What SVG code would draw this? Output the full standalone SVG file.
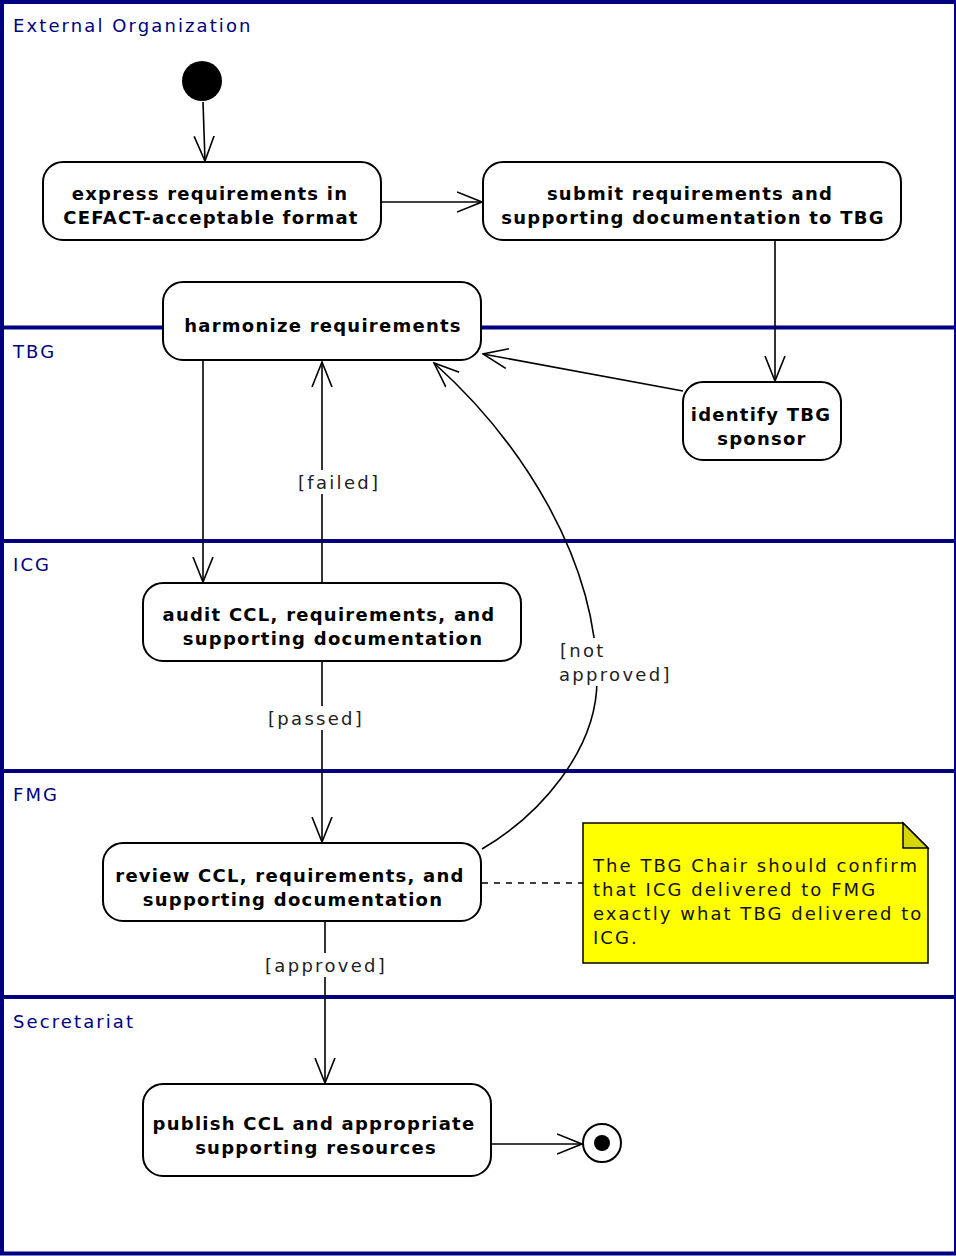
<svg xmlns="http://www.w3.org/2000/svg" width="956" height="1256" viewBox="0 0 956 1256">
<style>
.lane{fill:none;stroke:#000080;stroke-width:4}
.lanelbl{font-family:"DejaVu Sans",sans-serif;font-size:18px;fill:#000080;letter-spacing:2.1px}
.node rect{fill:#fff;stroke:#000;stroke-width:2}
.ntxt{font-family:"DejaVu Sans",sans-serif;font-size:18px;font-weight:bold;fill:#000;text-anchor:middle;letter-spacing:1.25px}
.edge{fill:none;stroke:#000;stroke-width:1.6}
.elbl{font-family:"DejaVu Sans",sans-serif;font-size:18px;fill:#222;letter-spacing:2.3px}
.notetxt{font-family:"DejaVu Sans",sans-serif;font-size:18px;fill:#111;letter-spacing:2.05px}
</style>
<defs>
<marker id="arr" markerUnits="userSpaceOnUse" viewBox="0 0 26 22" refX="25" refY="11" markerWidth="26" markerHeight="22" orient="auto">
<path d="M0,1 L25,11 L0,21" fill="none" stroke="#000" stroke-width="1.6"/>
</marker>
</defs>
<rect x="0" y="0" width="956" height="1256" fill="#fff"/>
<g id="lanes">
<rect class="lane" x="2" y="2" width="954" height="1251.5"/>
<line class="lane" x1="2" y1="327.5" x2="956" y2="327.5"/>
<line class="lane" x1="2" y1="541" x2="956" y2="541"/>
<line class="lane" x1="2" y1="771" x2="956" y2="771"/>
<line class="lane" x1="2" y1="997" x2="956" y2="997"/>
<text class="lanelbl" x="13" y="32">External Organization</text>
<text class="lanelbl" x="13" y="358">TBG</text>
<text class="lanelbl" x="13" y="571">ICG</text>
<text class="lanelbl" x="13" y="801">FMG</text>
<text class="lanelbl" x="13" y="1028">Secretariat</text>
</g>
<g id="connectors">
<line class="edge" x1="203" y1="102" x2="205" y2="161" marker-end="url(#arr)"/>
<line class="edge" x1="382" y1="202" x2="482" y2="202" marker-end="url(#arr)"/>
<line class="edge" x1="775" y1="241" x2="775" y2="381" marker-end="url(#arr)"/>
<line class="edge" x1="683" y1="391" x2="483" y2="354" marker-end="url(#arr)"/>
<line class="edge" x1="203" y1="361" x2="203" y2="582" marker-end="url(#arr)"/>
<line class="edge" x1="322" y1="583" x2="322" y2="362" marker-end="url(#arr)"/>
<line class="edge" x1="322" y1="662" x2="322" y2="842" marker-end="url(#arr)"/>
<path class="edge" d="M482,849 C540,815 597,750 597,680 C597,560 522,442 434,363" marker-end="url(#arr)"/>
<line class="edge" x1="325" y1="922" x2="325" y2="1083" marker-end="url(#arr)"/>
<line class="edge" x1="492" y1="1144" x2="582" y2="1144" marker-end="url(#arr)"/>
<line class="edge" x1="482" y1="883" x2="583" y2="883" stroke-dasharray="6,6"/>
<g id="edge-labels">
<rect x="296" y="470" width="84" height="24" fill="#fff"/>
<text class="elbl" x="298" y="489">[failed]</text>
<rect x="266" y="706" width="102" height="24" fill="#fff"/>
<text class="elbl" x="268" y="725">[passed]</text>
<rect x="263" y="953" width="128" height="24" fill="#fff"/>
<text class="elbl" x="265" y="972">[approved]</text>
<rect x="557" y="638" width="118" height="48" fill="#fff"/>
<text class="elbl" x="560" y="657">[not</text>
<text class="elbl" x="559" y="681">approved]</text>
</g>
</g>
<g id="initial"><circle cx="202" cy="81" r="20" fill="#000"/></g>
<g id="express" class="node"><rect x="43" y="162" width="338" height="78" rx="20"/>
<text class="ntxt" x="210" y="200">express requirements in</text><text class="ntxt" x="211" y="224">CEFACT-acceptable format</text></g>
<g id="submit" class="node"><rect x="483" y="162" width="418" height="78" rx="20"/>
<text class="ntxt" x="690" y="200">submit requirements and</text><text class="ntxt" x="693" y="224">supporting documentation to TBG</text></g>
<g id="harmonize" class="node"><rect x="163" y="282" width="318" height="78" rx="20"/>
<text class="ntxt" x="323" y="332">harmonize requirements</text></g>
<g id="identify" class="node"><rect x="683" y="382" width="158" height="78" rx="20"/>
<text class="ntxt" x="761" y="421">identify TBG</text><text class="ntxt" x="762" y="445">sponsor</text></g>
<g id="audit" class="node"><rect x="143" y="583" width="378" height="78" rx="20"/>
<text class="ntxt" x="329" y="621">audit CCL, requirements, and</text><text class="ntxt" x="333" y="645">supporting documentation</text></g>
<g id="review" class="node"><rect x="103" y="843" width="378" height="78" rx="20"/>
<text class="ntxt" x="290" y="882">review CCL, requirements, and</text><text class="ntxt" x="293" y="906">supporting documentation</text></g>
<g id="publish" class="node"><rect x="143" y="1084" width="348" height="92" rx="20"/>
<text class="ntxt" x="314" y="1130" letter-spacing="1">publish CCL and appropriate</text><text class="ntxt" x="316" y="1154">supporting resources</text></g>
<g id="final"><circle cx="602" cy="1143" r="19" fill="#fff" stroke="#000" stroke-width="2"/><circle cx="602" cy="1143" r="8" fill="#000"/></g>
<g id="note">
<polygon points="583,823 903,823 928,848 928,963 583,963" fill="#ffff00" stroke="#000" stroke-width="1.5"/>
<polygon points="903,823 903,848 928,848" fill="#d6d600" stroke="#000" stroke-width="1.5"/>
<text class="notetxt" x="593" y="872">The TBG Chair should confirm</text>
<text class="notetxt" x="593" y="896">that ICG delivered to FMG</text>
<text class="notetxt" x="593" y="920">exactly what TBG delivered to</text>
<text class="notetxt" x="593" y="944">ICG.</text>
</g>
</svg>
